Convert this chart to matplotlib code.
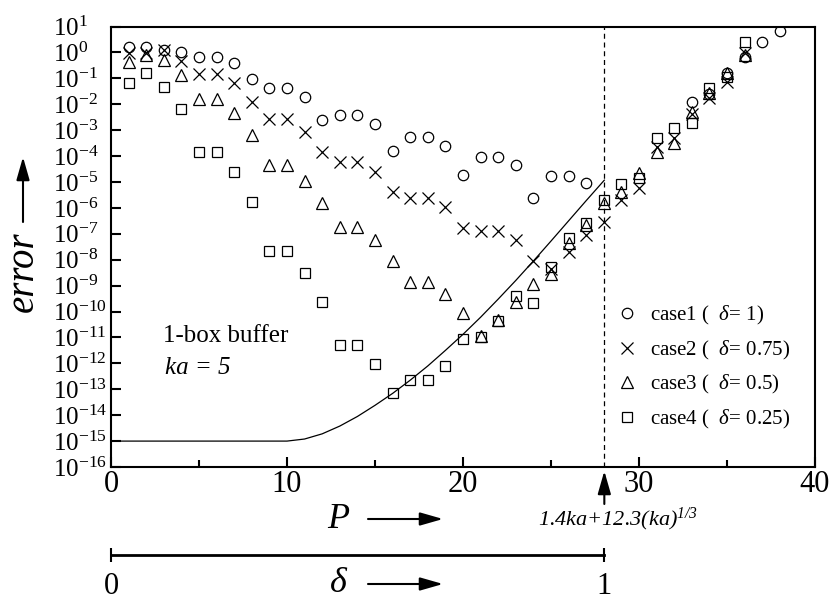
import numpy as np
import matplotlib.pyplot as plt
from matplotlib import transforms

plt.rcParams['font.family'] = ['Liberation Serif', 'DejaVu Serif']
plt.rcParams['mathtext.fontset'] = 'custom'
plt.rcParams['mathtext.rm'] = 'Liberation Serif'
plt.rcParams['mathtext.it'] = 'Liberation Serif:italic'
plt.rcParams['mathtext.sf'] = 'Liberation Serif:italic'  # used for the all-italic formula

# --- data: log10(error) ---
p_case1 = list(range(1, 28)) + [33, 34, 35, 36, 37, 38]
log_case1 = [0.22, 0.22, 0.09, 0.03, -0.17, -0.17, -0.40, -1.04, -1.36, -1.36,
             -1.71, -2.61, -2.43, -2.43, -2.76, -3.80, -3.28, -3.28, -3.60, -4.75,
             -4.03, -4.03, -4.36, -5.61, -4.76, -4.76, -5.05,
             -1.90, -1.60, -0.80, -0.17, 0.39, 0.84]

p_case2 = list(range(1, 37))
log_case2 = [-0.03, -0.03, 0.09, -0.33, -0.83, -0.83, -1.19, -1.90, -2.58, -2.58,
             -3.06, -3.86, -4.24, -4.24, -4.61, -5.40, -5.61, -5.61, -5.96, -6.77,
             -6.90, -6.90, -7.24, -8.04, -8.34, -7.72, -7.05, -6.56, -5.70, -5.25,
             -3.64, -3.32, -2.39, -1.75, -1.13, -0.03]

p_case3 = list(range(1, 37))
log_case3 = [-0.38, -0.10, -0.29, -0.87, -1.80, -1.80, -2.33, -3.19, -4.35, -4.35,
             -4.97, -5.83, -6.75, -6.75, -7.24, -8.05, -8.85, -8.85, -9.33, -10.07,
             -10.95, -10.31, -9.63, -8.94, -8.57, -7.37, -6.66, -5.83, -5.38, -4.67,
             -3.83, -3.49, -2.29, -1.58, -0.81, -0.10]

p_case4 = list(range(1, 37))
log_case4 = [-1.19, -0.81, -1.32, -2.20, -3.83, -3.83, -4.63, -5.76, -7.66, -7.66,
             -8.51, -9.63, -11.29, -11.29, -12.03, -13.14, -12.65, -12.65, -12.10, -11.07,
             -11.00, -10.36, -9.41, -9.69, -8.30, -7.18, -6.60, -5.70, -5.09, -4.86,
             -3.29, -2.93, -2.71, -1.36, -0.96, 0.41]

# estimate curve
curve_p = [0, 10, 11, 12, 13, 14, 15, 16, 17, 18, 19, 20, 21, 22, 23, 24, 25, 26, 27, 28.03]
curve_log = [-15, -15, -14.92, -14.72, -14.42, -14.05, -13.62, -13.16, -12.65, -12.10,
             -11.50, -10.88, -10.22, -9.52, -8.80, -8.05, -7.28, -6.50, -5.72, -4.93]

p_cut = 28.03  # 1.4ka + 12.3(ka)^(1/3), ka = 5

labels = [r'case1 (  $\delta$= 1)', r'case2 (  $\delta$= 0.75)',
          r'case3 (  $\delta$= 0.5)', r'case4 (  $\delta$= 0.25)']
xticks = [0, 10, 20, 30, 40]
yexp = list(range(-16, 2))

W, H = 833, 602
def fx(x):
    return x / W
def fy(y):
    return 1 - y / H

fig = plt.figure(figsize=(W / 100, H / 100), dpi=100)
ax = fig.add_axes([fx(111), fy(467), (815 - 111) / W, (467 - 26.5) / H])

mk = dict(ls='none', mfc='none', mec='k', mew=0.9)
h1, = ax.plot(p_case1, 10.0 ** np.array(log_case1), marker='o', ms=7.5, **mk)
h2, = ax.plot(p_case2, 10.0 ** np.array(log_case2), marker='x', ms=8.5, **mk)
h3, = ax.plot(p_case3, 10.0 ** np.array(log_case3), marker='^', ms=8, **mk)
h4, = ax.plot(p_case4, 10.0 ** np.array(log_case4), marker='s', ms=7, **mk)
ax.plot(curve_p, 10.0 ** np.array(curve_log), color='k', lw=0.9)
ax.axvline(p_cut, color='k', lw=0.9, ls=(0, (4, 3)))

ax.set_yscale('log')
ax.set_xlim(0, 40)
ax.set_ylim(1e-16, 1e1)
ax.set_xticks(xticks)
ax.set_xticks([5, 15, 25, 35], minor=True)
ax.set_yticks([10.0 ** e for e in yexp])
ax.set_yticklabels([r'$10^{%d}$' % e for e in yexp])
ax.yaxis.set_minor_locator(plt.NullLocator())
ax.tick_params(axis='both', which='both', direction='in', width=1.5, top=False, right=False)
ax.tick_params(axis='x', which='major', length=7, labelsize=22, pad=2)
ax.tick_params(axis='x', which='minor', length=5)
ax.tick_params(axis='y', which='major', length=7, labelsize=18, pad=42)
for lab in ax.get_yticklabels():
    lab.set_horizontalalignment('left')
for s in ax.spines.values():
    s.set_linewidth(1.5)

ax.text(0.074, 0.297, '1-box buffer', transform=ax.transAxes, fontsize=18, va='center')
ax.text(0.077, 0.225, 'ka = 5', transform=ax.transAxes, fontsize=18, va='center', style='italic')

ax.legend([h1, h2, h3, h4], labels, loc='upper left', bbox_to_anchor=(0.718, 0.37),
          frameon=False, fontsize=15, handlelength=1.0, handletextpad=0.6,
          labelspacing=0.55, borderpad=0, borderaxespad=0)

# y label with arrow
fig.text(fx(23), fy(272), 'error', rotation=90, fontsize=28, style='italic',
         ha='center', va='center')
arrow = dict(arrowstyle='-|>,head_length=0.7,head_width=0.2', color='k', lw=1.5,
             mutation_scale=20, shrinkA=0, shrinkB=0)
ax.annotate('', xy=(fx(23), fy(157)), xytext=(fx(23), fy(222)),
            xycoords='figure fraction', arrowprops=arrow, annotation_clip=False)

# P label and arrow
fig.text(fx(338), fy(519), 'P', fontsize=26, style='italic', ha='center', va='center')
ax.annotate('', xy=(fx(443), fy(519)), xytext=(fx(368), fy(519)),
            xycoords='figure fraction', arrowprops=arrow, annotation_clip=False)

# arrow up to the dashed line and formula
bt = transforms.blended_transform_factory(ax.transData, ax.transAxes)
ax.annotate('', xy=(p_cut, (467 - 471) / 440.5), xytext=(p_cut, (467 - 504) / 440.5),
            xycoords=bt, arrowprops=arrow, annotation_clip=False)
fig.text(fx(538), fy(519), r'$\mathsf{1.4ka{+}12.3(ka)}^{\mathsf{1/3}}$', fontsize=16,
         ha='left', va='center')

# delta bar
ybar = (467 - 555) / 440.5
ax.plot([0, p_cut], [ybar, ybar], transform=bt, color='k', lw=2, clip_on=False)
ax.plot([0, p_cut], [ybar, ybar], transform=bt, color='k', ls='none', marker='|',
        ms=10, mew=1.5, clip_on=False)
ylab = (467 - 586) / 440.5
ax.text(0, ylab, '0', transform=bt, fontsize=22, ha='center', va='center')
ax.text(p_cut, ylab, '1', transform=bt, fontsize=22, ha='center', va='center')
fig.text(fx(338), fy(584), 'δ', fontsize=26, style='italic', ha='center', va='center')
ax.annotate('', xy=(fx(443), fy(584)), xytext=(fx(368), fy(584)),
            xycoords='figure fraction', arrowprops=arrow, annotation_clip=False)

fig.savefig('out.png', dpi=100)
